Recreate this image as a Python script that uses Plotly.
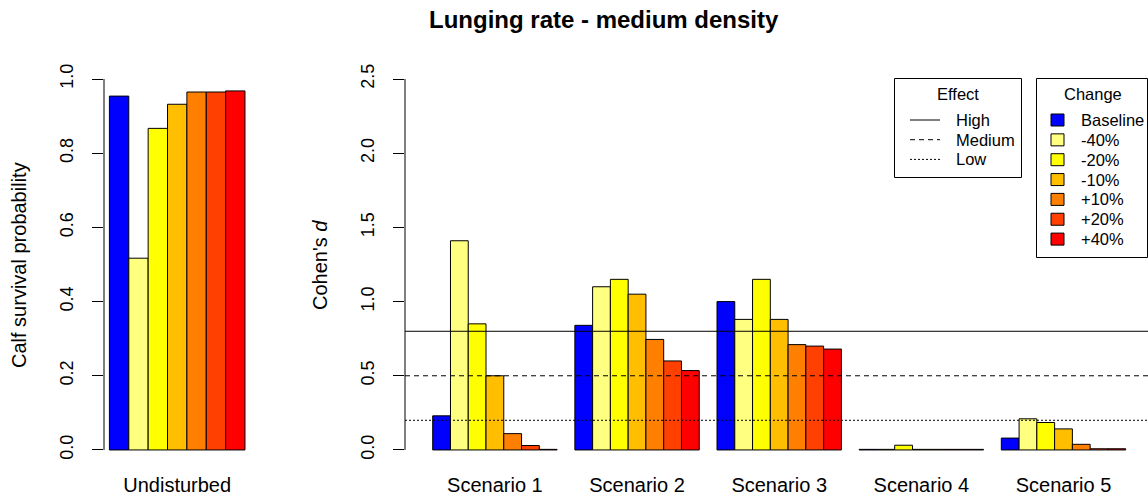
import plotly.graph_objects as go

# ---- data ----
changes = ["Baseline", "-40%", "-20%", "-10%", "+10%", "+20%", "+40%"]
change_colors = ["#0000FF", "#FFFF80", "#FFFF00", "#FFBF00", "#FF8000", "#FF4000", "#FF0000"]

# calf survival probability, undisturbed population
survival = [0.954, 0.517, 0.867, 0.932, 0.965, 0.965, 0.968]

scenarios = ["Scenario 1", "Scenario 2", "Scenario 3", "Scenario 4", "Scenario 5"]
# Cohen's d per change level (rows) across scenarios (columns)
cohen_d = {
    "Baseline": [0.23, 0.84, 1.00, 0.004, 0.08],
    "-40%":     [1.41, 1.10, 0.88, 0.004, 0.21],
    "-20%":     [0.85, 1.15, 1.15, 0.032, 0.185],
    "-10%":     [0.50, 1.05, 0.88, 0.004, 0.142],
    "+10%":     [0.11, 0.745, 0.71, 0.004, 0.038],
    "+20%":     [0.03, 0.60, 0.70, 0.004, 0.008],
    "+40%":     [0.004, 0.535, 0.68, 0.004, 0.008],
}

effect_labels = ["High", "Medium", "Low"]
effect_levels = [0.8, 0.5, 0.2]
effect_dash = ["solid", "5px,4px", "2px,2px"]

left_ticks = [0.0, 0.2, 0.4, 0.6, 0.8, 1.0]
right_ticks = [0.0, 0.5, 1.0, 1.5, 2.0, 2.5]

# ---- layout helpers ----
W, H = 1148, 499
FONT = "Arial, Liberation Sans, sans-serif"


def px(p):
    return p / W


def py(p):
    return 1 - p / H


n_chg = len(changes)
group_step = n_chg + 1  # one empty slot between groups

fig = go.Figure()

# left panel: survival bars
for j, (name, col) in enumerate(zip(changes, change_colors)):
    fig.add_trace(go.Bar(
        x=[1 + j + 0.5], y=[survival[j]], width=1,
        marker=dict(color=col, line=dict(color="#000", width=1)),
        xaxis="x", yaxis="y", showlegend=False, name=name,
    ))

# right panel: Cohen's d bars
for j, (name, col) in enumerate(zip(changes, change_colors)):
    xs = [1 + group_step * g + j + 0.5 for g in range(len(scenarios))]
    fig.add_trace(go.Bar(
        x=xs, y=cohen_d[name], width=1,
        marker=dict(color=col, line=dict(color="#000", width=1)),
        xaxis="x2", yaxis="y2", showlegend=False, name=name,
    ))

group_centers = [1 + group_step * g + n_chg / 2 for g in range(len(scenarios))]

ydom = [py(464.8), py(64.2)]
axis_font = dict(family=FONT, size=18, color="#000")
cat_font = dict(family=FONT, size=20, color="#000")

fig.update_layout(
    width=W, height=H,
    margin=dict(l=0, r=0, t=0, b=0),
    paper_bgcolor="white", plot_bgcolor="white",
    barmode="overlay",
    font=dict(family=FONT, color="#000"),
    xaxis=dict(domain=[px(104), px(250.4)], range=[0.72, 8.28],
               tickvals=[1 + n_chg / 2], ticktext=["Undisturbed"],
               ticks="", showgrid=False, zeroline=False, showline=False,
               tickfont=cat_font, ticklabelstandoff=6, fixedrange=True),
    yaxis=dict(domain=ydom, range=[-0.04, 1.04], tickvals=left_ticks,
               tickformat=".1f", ticks="outside", ticklen=11, tickcolor="#000",
               tickangle=-90, tickfont=axis_font, showgrid=False,
               zeroline=False, showline=False, ticklabelstandoff=12),
    xaxis2=dict(domain=[px(405), 1.0], range=[-0.559, 41.255],
                tickvals=group_centers, ticktext=scenarios, anchor="y2",
                ticks="", showgrid=False, zeroline=False, showline=False,
                tickfont=cat_font, ticklabelstandoff=6),
    yaxis2=dict(domain=ydom, range=[-0.1, 2.6], tickvals=right_ticks,
                tickformat=".1f", ticks="outside", ticklen=11, tickcolor="#000",
                tickangle=-90, tickfont=axis_font, showgrid=False,
                zeroline=False, showline=False, anchor="x2",
                ticklabelstandoff=12),
)

shapes = []
annotations = []

# axis lines spanning the tick range only
shapes.append(dict(type="line", xref="x domain", yref="y", x0=0, x1=0,
                   y0=left_ticks[0], y1=left_ticks[-1],
                   line=dict(color="#000", width=1)))
shapes.append(dict(type="line", xref="x2 domain", yref="y2", x0=0, x1=0,
                   y0=right_ticks[0], y1=right_ticks[-1],
                   line=dict(color="#000", width=1)))

# effect size reference lines
for lvl, dash in zip(effect_levels, effect_dash):
    shapes.append(dict(type="line", xref="x2 domain", yref="y2", x0=0, x1=1,
                       y0=lvl, y1=lvl, layer="above",
                       line=dict(color="#000", width=1, dash=dash)))

# axis titles and main title
annotations.append(dict(text="Calf survival probability", xref="paper", yref="paper",
                        x=px(19), y=py(265), textangle=-90, showarrow=False,
                        xanchor="center", yanchor="middle",
                        font=dict(family=FONT, size=20, color="#000")))
annotations.append(dict(text="Cohen's <i>d</i>", xref="paper", yref="paper",
                        x=px(320), y=py(265), textangle=-90, showarrow=False,
                        xanchor="center", yanchor="middle",
                        font=dict(family=FONT, size=20, color="#000")))
annotations.append(dict(text="<b>Lunging rate - medium density</b>", xref="paper",
                        yref="paper", x=px(603.5), y=py(19), showarrow=False,
                        xanchor="center", yanchor="middle",
                        font=dict(family=FONT, size=24, color="#000")))

leg_font = dict(family=FONT, size=16.5, color="#000")

# "Effect" legend box
shapes.append(dict(type="rect", xref="paper", yref="paper",
                   x0=px(894.5), x1=px(1021.5), y0=py(177.5), y1=py(78.5),
                   line=dict(color="#000", width=1), fillcolor="white", layer="above"))
annotations.append(dict(text="Effect", xref="paper", yref="paper", x=px(958),
                        y=py(94), showarrow=False, xanchor="center",
                        yanchor="middle", font=leg_font))
for i, (lab, dash) in enumerate(zip(effect_labels, effect_dash)):
    yrow = 120 + i * 19.7
    shapes.append(dict(type="line", xref="paper", yref="paper",
                       x0=px(910), x1=px(940), y0=py(yrow), y1=py(yrow),
                       line=dict(color="#000", width=1, dash=dash), layer="above"))
    annotations.append(dict(text=lab, xref="paper", yref="paper", x=px(954),
                            y=py(yrow), showarrow=False, xanchor="left",
                            yanchor="middle", font=leg_font))

# "Change" legend box
shapes.append(dict(type="rect", xref="paper", yref="paper",
                   x0=px(1036.5), x1=px(1147.5), y0=py(257.5), y1=py(78.5),
                   line=dict(color="#000", width=1), fillcolor="white", layer="above"))
annotations.append(dict(text="Change", xref="paper", yref="paper", x=px(1093),
                        y=py(94), showarrow=False, xanchor="center",
                        yanchor="middle", font=leg_font))
for i, (lab, col) in enumerate(zip(changes, change_colors)):
    yrow = 120 + i * 19.85
    shapes.append(dict(type="rect", xref="paper", yref="paper",
                       x0=px(1051), x1=px(1064), y0=py(yrow + 6), y1=py(yrow - 6),
                       fillcolor=col, line=dict(color="#000", width=1), layer="above"))
    annotations.append(dict(text=lab, xref="paper", yref="paper", x=px(1079),
                            y=py(yrow), showarrow=False, xanchor="left",
                            yanchor="middle", font=leg_font))

fig.update_layout(shapes=shapes, annotations=annotations)

fig.write_html("out.html")
